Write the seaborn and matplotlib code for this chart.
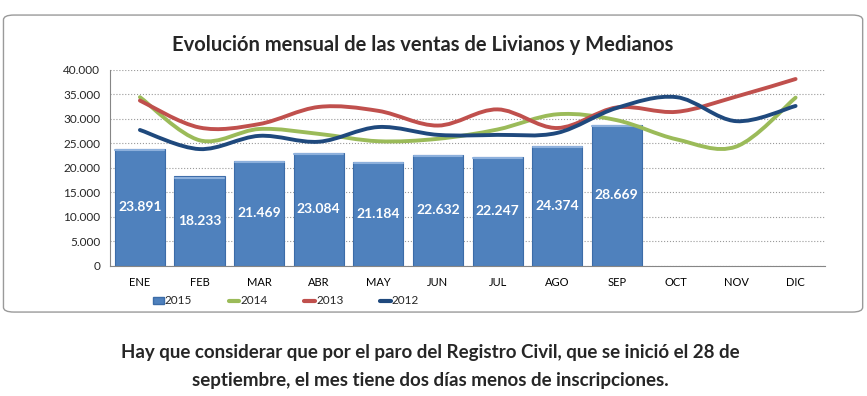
import numpy as np
import pandas as pd
import matplotlib
matplotlib.use('Agg')
import matplotlib.pyplot as plt
import seaborn as sns
from matplotlib.path import Path
from matplotlib.patches import PathPatch, FancyBboxPatch, Patch
from matplotlib.lines import Line2D
from matplotlib.ticker import FuncFormatter, MultipleLocator

# datos
meses = ['ENE', 'FEB', 'MAR', 'ABR', 'MAY', 'JUN', 'JUL', 'AGO', 'SEP', 'OCT', 'NOV', 'DIC']
ventas_2015 = [23891, 18233, 21469, 23084, 21184, 22632, 22247, 24374, 28669]
ventas_2014 = [34400, 25600, 27900, 26900, 25400, 25900, 27800, 30900, 29700, 25800, 24300, 34300]
ventas_2013 = [33700, 28200, 28900, 32400, 31600, 28600, 31900, 28100, 32300, 31400, 34500, 38100]
ventas_2012 = [27700, 23800, 26500, 25300, 28300, 26700, 26700, 27100, 32200, 34400, 29500, 32600]

colores = {'2015': '#4F81BD', '2014': '#9BBB59', '2013': '#C0504D', '2012': '#1F497D'}


def curva_suave(y):
    # curva tipo catmull-rom como el "suavizado" de excel
    x = np.arange(len(y), dtype=float)
    y = np.asarray(y, dtype=float)
    pts = np.column_stack([x, y])
    ext = np.vstack([pts[0], pts, pts[-1]])
    verts = [pts[0]]
    codes = [Path.MOVETO]
    for i in range(len(pts) - 1):
        p0, p1, p2, p3 = ext[i], ext[i + 1], ext[i + 2], ext[i + 3]
        c1 = p1 + (p2 - p0) / 6
        c2 = p2 - (p3 - p1) / 6
        verts += [c1, c2, p2]
        codes += [Path.CURVE4] * 3
    return Path(verts, codes)


sns.set_theme(style='white')
plt.rcParams['font.family'] = ['Lato', 'DejaVu Sans']

fig = plt.figure(figsize=(8.67, 3.96), dpi=100)

marco = FancyBboxPatch((0.004, 0.212), 0.991, 0.75,
                       boxstyle='round,pad=0,rounding_size=0.012',
                       transform=fig.transFigure, fc='white', ec='#9A9A9A', lw=1,
                       zorder=-10)
fig.patches.append(marco)

ax = fig.add_axes([0.127, 0.329, 0.825, 0.495])
ax.set_facecolor('none')

df = pd.DataFrame({'mes': meses[:len(ventas_2015)], 'ventas': ventas_2015})
sns.barplot(data=df, x='mes', y='ventas', order=meses, color=colores['2015'],
            saturation=1, width=0.84, edgecolor='#3C6CA8', linewidth=0.8, ax=ax, zorder=2)

# borde superior mas claro, como el relieve de excel
for i, v in enumerate(ventas_2015):
    ax.plot([i - 0.41, i + 0.41], [v - 250, v - 250], color='#8DB0DC', lw=1.5, zorder=2.5)
    ax.text(i, v / 2, f'{v:,}'.replace(',', '.'), ha='center', va='center',
            color='white', fontsize=10, fontweight='bold', zorder=3)

for serie, vals in [('2014', ventas_2014), ('2013', ventas_2013), ('2012', ventas_2012)]:
    ax.add_patch(PathPatch(curva_suave(vals), fc='none', ec=colores[serie],
                           lw=2.8, capstyle='round', zorder=4))

ax.set_xlim(-0.5, 11.5)
ax.set_ylim(0, 40000)
ax.yaxis.set_major_locator(MultipleLocator(5000))
ax.yaxis.set_major_formatter(FuncFormatter(lambda v, p: f'{int(v):,}'.replace(',', '.')))
ax.set_xlabel('')
ax.set_ylabel('')
ax.yaxis.grid(True, linestyle=':', color='#9A9A9A', lw=0.8)
ax.set_axisbelow(True)
for s in ['top', 'right']:
    ax.spines[s].set_visible(False)
for s in ['left', 'bottom']:
    ax.spines[s].set_color('#868686')
    ax.spines[s].set_linewidth(0.8)

ax.set_xticks(np.arange(-0.5, 12, 1), minor=True)
ax.tick_params(axis='x', which='major', length=0, labelsize=8, pad=8, colors='black')
ax.tick_params(axis='x', which='minor', length=4, color='#868686', direction='out')
ax.tick_params(axis='y', length=4, labelsize=8.5, color='#868686', direction='out', pad=3)

fig.text(0.487, 0.886, 'Evolución mensual de las ventas de Livianos y Medianos',
         ha='center', va='center', fontsize=14.5, fontweight='bold')

handles = [Patch(fc=colores['2015'], ec='#3C6CA8', label='2015'),
           Line2D([], [], color=colores['2014'], lw=3, label='2014'),
           Line2D([], [], color=colores['2013'], lw=3, label='2013'),
           Line2D([], [], color=colores['2012'], lw=3, label='2012')]
fig.legend(handles=handles, loc='center', bbox_to_anchor=(0.33, 0.24), ncol=4,
           frameon=False, fontsize=8.5, handlelength=0.9, handletextpad=0.1,
           columnspacing=3.1, handleheight=0.6)

fig.text(0.496, 0.111, 'Hay que considerar que por el paro del Registro Civil, que se inició el 28 de',
         ha='center', va='center', fontsize=13.5, fontweight='bold')
fig.text(0.496, 0.04, 'septiembre, el mes tiene dos días menos de inscripciones.',
         ha='center', va='center', fontsize=13.5, fontweight='bold')

fig.savefig('out.png', dpi=100)
